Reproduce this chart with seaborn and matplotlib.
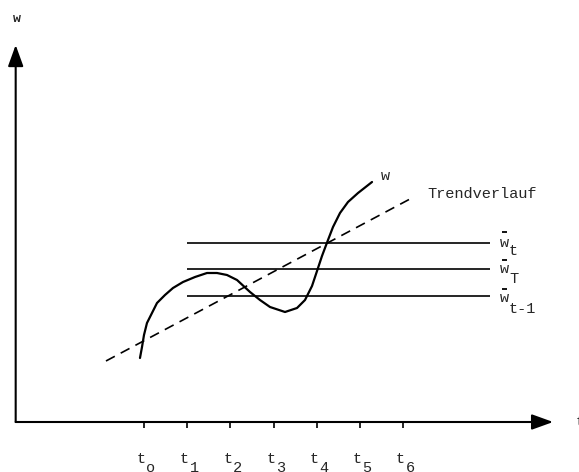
import numpy as np
import matplotlib
matplotlib.use("Agg")
import matplotlib.pyplot as plt
import seaborn as sns

# === Data (time in units of t_i, value w) ===
t_ticks = [0, 1, 2, 3, 4, 5, 6]
t_subs = ["o", "1", "2", "3", "4", "5", "6"]

curve_t = [-0.093, -0.046, 0.0, 0.069, 0.185, 0.301, 0.486, 0.671, 0.903, 1.181,
           1.458, 1.690, 1.921, 2.153, 2.454, 2.685, 2.917, 3.264, 3.542, 3.727,
           3.889, 4.005, 4.120, 4.259, 4.375, 4.537, 4.722, 4.954, 5.278]
curve_w = [1.6, 1.875, 2.175, 2.475, 2.725, 2.975, 3.175, 3.35, 3.5, 3.625,
           3.725, 3.725, 3.675, 3.55, 3.25, 3.05, 2.875, 2.75, 2.85, 3.05,
           3.4, 3.775, 4.15, 4.55, 4.875, 5.225, 5.5, 5.725, 6.0]

trend_t = [-0.88, 6.20]
trend_w = [1.525, 5.6]

mean_names = ["t", "T", "t-1"]
mean_levels = [4.475, 3.825, 3.15]
mean_start, mean_end = 1.0, 8.0

x_axis_end = 9.47
w_axis_end = 9.425
axis_origin = (-2.97, 0.0)

# === Figure ===
sns.set_style("white")
plt.rcParams["font.family"] = ["Liberation Mono", "DejaVu Sans Mono"]
FS = 11

fig = plt.figure(figsize=(5.79, 4.72), dpi=100)
ax = fig.add_axes([0, 0, 1, 1])
ax.set_xlim(-3.333, 10.069)
ax.set_ylim(-1.25, 10.55)
ax.axis("off")

# axes with arrows
arrow = dict(arrowstyle="-|>,head_length=1.3,head_width=0.47", mutation_scale=10,
             color="black", lw=1.5, shrinkA=0, shrinkB=0)
ax.annotate("", xy=(x_axis_end, axis_origin[1]), xytext=axis_origin, arrowprops=arrow)
ax.annotate("", xy=(axis_origin[0], w_axis_end), xytext=axis_origin, arrowprops=arrow)
ax.text(axis_origin[0] + 0.04, 10.08, "w", fontsize=9.5, fontweight="bold", ha="center", va="center")
ax.text(10.0, 0.0, "t", fontsize=FS, ha="left", va="center")

# ticks
ax.vlines(t_ticks, -0.15, 0, color="black", lw=1.2)
for t, s in zip(t_ticks, t_subs):
    ax.text(t - 0.06, -0.92, "t", fontsize=FS, ha="center", va="center")
    ax.text(t + 0.16, -1.15, s, fontsize=FS, ha="center", va="center")

# mean levels (w with overbar and index)
ax.hlines(mean_levels, mean_start, mean_end, color="black", lw=1.2)
label_dy = [(0.28, 0.0, -0.2), (0.22, -0.0, -0.25), (0.23, -0.05, -0.28)]
for lvl, name, (dbar, dw, dsub) in zip(mean_levels, mean_names, label_dy):
    ax.hlines(lvl + dw + dbar, 8.29, 8.41, color="black", lw=1.3)
    ax.text(8.35, lvl + dw, "w", fontsize=FS, ha="center", va="center")
    ax.text(8.45, lvl + dw + dsub, name, fontsize=FS, ha="left", va="center")

# trend and curve
sns.lineplot(x=trend_t, y=trend_w, ax=ax, color="black", lw=1.2, sort=False,
             linestyle=(0, (6, 4)))
sns.lineplot(x=curve_t, y=curve_w, ax=ax, color="black", lw=1.6, sort=False)
ax.text(5.58, 6.15, "w", fontsize=FS, ha="center", va="center")
ax.text(6.55, 5.7, "Trendverlauf", fontsize=FS, ha="left", va="center")

fig.savefig("out.png", dpi=100)
